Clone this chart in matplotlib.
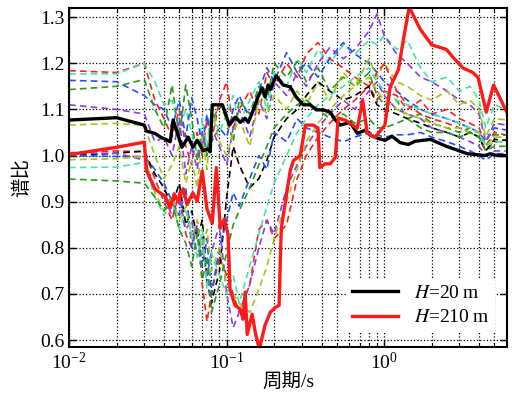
import numpy as np
import matplotlib
matplotlib.use("Agg")
import matplotlib.pyplot as plt

plt.rcParams['font.family'] = ['Liberation Serif', 'Noto Sans CJK SC']
plt.rcParams['mathtext.fontset'] = 'stix'

# periods of the dashed (intermediate depth) curves, s
t_dash = [0.01, 0.02, 0.03, 0.035, 0.04, 0.045, 0.05, 0.055, 0.06, 0.065,
          0.07, 0.075, 0.08, 0.09, 0.1, 0.11, 0.12, 0.14, 0.16, 0.18,
          0.2, 0.24, 0.28, 0.32, 0.38, 0.45, 0.55, 0.65, 0.8, 0.9,
          1.0, 1.2, 1.4, 1.7, 2.0, 2.5, 3.0, 3.5, 4.0, 4.4, 5.0, 6.0]

dash_colors = ['#ff2020', '#3ee8a8', '#2050ff', '#2a9a1a', '#8a3cf0', '#a0c814',
               '#ff2020', '#000000', '#2050ff', '#8a3cf0', '#a0c814', '#3ee8a8', '#2a9a1a']

dash_vals = [
    [1.184, 1.18, 1.20, 1.12, 1.08, 1.04, 1.10, 1.02, 0.98, 1.05, 1.00, 1.08, 1.03, 1.12,
     1.16, 1.06, 1.10, 1.14, 1.09, 1.18, 1.15, 1.20, 1.17, 1.22, 1.245, 1.21, 1.19, 1.17,
     1.15, 1.12, 1.14, 1.13, 1.10, 1.12, 1.09, 1.10, 1.08, 1.07, 1.06, 1.02, 1.05, 1.044],
    [1.177, 1.177, 1.20, 1.16, 1.11, 1.12, 1.06, 1.10, 1.05, 1.00, 1.08, 1.02, 1.10, 1.05,
     1.09, 1.13, 1.07, 1.12, 1.16, 1.10, 1.18, 1.15, 1.21, 1.18, 1.23, 1.20, 1.24, 1.22,
     1.25, 1.24, 1.26, 1.23, 1.25, 1.19, 1.16, 1.17, 1.14, 1.15, 1.12, 1.06, 1.11, 1.10],
    [1.163, 1.16, 1.13, 1.11, 1.10, 1.06, 1.12, 1.04, 1.125, 1.08, 1.02, 1.09, 1.03, 1.06,
     1.04, 1.10, 1.13, 1.08, 1.14, 1.19, 1.16, 1.223, 1.18, 1.20, 1.17, 1.21, 1.245, 1.22,
     1.20, 1.18, 1.16, 1.14, 1.12, 1.10, 1.09, 1.08, 1.07, 1.06, 1.05, 1.03, 1.06, 1.055],
    [1.143, 1.15, 1.165, 1.10, 1.06, 1.153, 1.04, 1.153, 1.08, 0.99, 1.05, 1.00, 1.07, 1.11,
     1.08, 1.03, 1.12, 1.09, 1.15, 1.12, 1.20, 1.17, 1.204, 1.16, 1.19, 1.14, 1.17, 1.15,
     1.18, 1.13, 1.11, 1.12, 1.08, 1.09, 1.07, 1.06, 1.05, 1.06, 1.05, 1.02, 1.045, 1.044],
    [1.11, 1.10, 1.09, 1.03, 1.04, 1.00, 1.08, 0.96, 1.02, 0.97, 1.05, 1.01, 1.06, 1.02,
     0.98, 1.06, 1.10, 1.04, 1.12, 1.08, 1.16, 1.13, 1.18, 1.15, 1.20, 1.234, 1.21, 1.23,
     1.27, 1.307, 1.26, 1.22, 1.20, 1.17, 1.16, 1.14, 1.12, 1.11, 1.09, 1.03, 1.07, 1.066],
    [1.066, 1.07, 1.065, 1.00, 0.95, 0.98, 1.02, 0.94, 0.99, 0.93, 1.04, 0.97, 1.10, 1.03,
     1.00, 1.05, 1.08, 1.02, 1.12, 1.09, 1.13, 1.10, 1.14, 1.11, 1.16, 1.12, 1.18, 1.15,
     1.21, 1.17, 1.20, 1.16, 1.15, 1.13, 1.12, 1.14, 1.11, 1.12, 1.10, 1.04, 1.08, 1.077],
    [1.006, 1.01, 1.008, 0.95, 0.90, 0.86, 0.92, 0.83, 0.80, 0.86, 0.72, 0.64, 0.70, 0.78,
     0.74, 0.70, 0.66, 0.72, 0.84, 0.86, 0.82, 0.85, 0.95, 1.00, 1.04, 1.07, 1.10, 1.12,
     1.15, 1.18, 1.20, 1.14, 1.11, 1.09, 1.08, 1.07, 1.06, 1.05, 1.04, 1.01, 1.03, 1.03],
    [1.0, 1.005, 1.01, 0.96, 0.93, 0.89, 0.94, 0.85, 0.88, 0.82, 0.86, 0.73, 0.68, 0.75,
     0.91, 1.02, 0.98, 0.93, 0.95, 0.99, 1.04, 1.08, 1.10, 1.13, 1.16, 1.14, 1.12, 1.13,
     1.15, 1.11, 1.10, 1.09, 1.08, 1.07, 1.06, 1.05, 1.04, 1.05, 1.04, 1.01, 1.035, 1.033],
    [1.0, 0.998, 0.998, 0.97, 0.94, 0.90, 0.87, 0.93, 0.80, 0.85, 0.76, 0.82, 0.70, 0.80,
     0.86, 0.92, 0.89, 0.95, 1.00, 0.97, 1.05, 1.03, 1.08, 1.06, 1.05, 1.04, 1.03, 1.04,
     1.05, 1.045, 1.04, 1.045, 1.045, 1.05, 1.04, 1.03, 1.02, 1.01, 1.0, 0.99, 1.004, 1.004],
    [1.004, 1.005, 0.99, 0.93, 0.91, 0.87, 0.90, 0.84, 0.86, 0.78, 0.82, 0.74, 0.79, 0.85,
     0.70, 0.627, 0.66, 0.72, 0.80, 0.86, 0.83, 0.93, 0.98, 1.02, 1.06, 1.09, 1.12, 1.10,
     1.14, 1.16, 1.13, 1.10, 1.09, 1.08, 1.06, 1.05, 1.04, 1.03, 1.02, 1.00, 1.01, 1.01],
    [0.991, 0.993, 0.998, 0.92, 0.88, 0.91, 0.86, 0.89, 0.82, 0.86, 0.79, 0.84, 0.75, 0.80,
     0.72, 0.70, 0.68, 0.66, 0.71, 0.76, 0.82, 0.90, 0.97, 1.03, 1.07, 1.10, 1.13, 1.15,
     1.17, 1.14, 1.12, 1.10, 1.09, 1.08, 1.07, 1.06, 1.06, 1.05, 1.05, 1.02, 1.04, 1.04],
    [0.974, 0.975, 0.985, 0.91, 0.87, 0.90, 0.84, 0.88, 0.83, 0.78, 0.84, 0.71, 0.79, 0.74,
     0.70, 0.74, 0.68, 0.76, 0.83, 0.89, 0.94, 1.00, 1.05, 1.08, 1.11, 1.13, 1.15, 1.17,
     1.19, 1.16, 1.14, 1.12, 1.11, 1.10, 1.09, 1.08, 1.07, 1.06, 1.05, 1.02, 1.03, 1.03],
    [0.949, 0.945, 0.94, 0.91, 0.88, 0.90, 0.84, 0.81, 0.76, 0.83, 0.73, 0.78, 0.66, 0.72,
     0.79, 0.85, 0.88, 0.93, 0.98, 1.02, 1.06, 1.09, 1.11, 1.12, 1.10, 1.08, 1.09, 1.07,
     1.08, 1.06, 1.06, 1.07, 1.08, 1.06, 1.05, 1.05, 1.04, 1.05, 1.04, 1.01, 1.02, 1.02],
]

# H = 20 m
t_h20 = [0.01, 0.02, 0.03, 0.031, 0.035, 0.038, 0.041, 0.0438, 0.0457, 0.052, 0.057,
         0.061, 0.065, 0.071, 0.076, 0.0785, 0.081, 0.094, 0.104, 0.113, 0.122, 0.131,
         0.137, 0.145, 0.158, 0.168, 0.175, 0.183, 0.189, 0.206, 0.228, 0.253, 0.276,
         0.306, 0.339, 0.37, 0.41, 0.454, 0.489, 0.526, 0.608, 0.674, 0.757, 0.815,
         0.916, 1.01, 1.12, 1.26, 1.42, 1.57, 1.96, 2.48, 3.37, 4.37, 4.71, 5.21, 6.0]
v_h20 = [1.077, 1.082, 1.066, 1.053, 1.048, 1.040, 1.035, 1.030, 1.077, 1.018, 1.040,
         1.018, 1.033, 1.010, 1.015, 1.008, 1.110, 1.110, 1.066, 1.083, 1.072, 1.081,
         1.072, 1.092, 1.127, 1.147, 1.127, 1.153, 1.143, 1.173, 1.153, 1.149, 1.127,
         1.110, 1.110, 1.099, 1.099, 1.094, 1.077, 1.066, 1.072, 1.048, 1.055, 1.044,
         1.037, 1.033, 1.042, 1.028, 1.024, 1.031, 1.035, 1.020, 1.004, 1.000, 1.004, 1.000, 1.000]

# H = 210 m
t_h210 = [0.01, 0.02, 0.03, 0.031, 0.035, 0.0378, 0.0407, 0.0438, 0.0464, 0.049, 0.053,
          0.056, 0.061, 0.065, 0.0699, 0.075, 0.081, 0.086, 0.091, 0.0965, 0.102, 0.105,
          0.113, 0.122, 0.127, 0.131, 0.135, 0.145, 0.152, 0.161, 0.175, 0.189, 0.204,
          0.215, 0.222, 0.253, 0.265, 0.293, 0.316, 0.355, 0.38, 0.39, 0.42, 0.454, 0.489,
          0.51, 0.565, 0.608, 0.674, 0.73, 0.78, 0.875, 1.01, 1.09, 1.23, 1.32, 1.44,
          1.69, 2.0, 2.48, 2.73, 3.15, 3.65, 3.94, 4.44, 4.94, 6.0]
v_h210 = [1.002, 1.018, 1.029, 0.967, 0.928, 0.919, 0.912, 0.886, 0.917, 0.901, 0.928,
          0.894, 0.919, 0.901, 0.967, 0.884, 0.853, 0.974, 0.842, 0.862, 0.829, 0.710,
          0.675, 0.667, 0.645, 0.704, 0.612, 0.656, 0.616, 0.580, 0.632, 0.660, 0.671,
          0.675, 0.842, 0.967, 0.989, 1.000, 1.066, 1.066, 1.059, 0.974, 0.982, 0.982, 0.996,
          1.081, 1.077, 1.070, 1.059, 1.120, 1.048, 1.040, 1.066, 1.149, 1.186, 1.250, 1.322,
          1.274, 1.240, 1.230, 1.213, 1.190, 1.180, 1.169, 1.094, 1.153, 1.094]

fig = plt.figure(figsize=(5.12, 3.97), dpi=100)
ax = fig.add_axes([0.135, 0.126, 0.855, 0.854])

for vals, c in zip(dash_vals, dash_colors):
    ax.plot(t_dash, vals, color=c, lw=1.2, ls=(0, (4, 2.5)))

ax.plot(t_h20, v_h20, color='black', lw=2.4, label='$H$=20\u2009m')
ax.plot(t_h210, v_h210, color='#ff1a1a', lw=2.4, label='$H$=210\u2009m')

ax.set_xscale('log')
ax.set_xlim(0.01, 6.0)
ax.set_ylim(0.585, 1.32)
ax.set_yticks([0.6, 0.7, 0.8, 0.9, 1.0, 1.1, 1.2, 1.3])
ax.set_yticklabels(['0.6', '0.7', '0.8', '0.9', '1.0', '1.1', '1.2', '1.3'])

ax.grid(True, which='both', axis='x', color='black', ls=':', lw=0.9)
ax.grid(True, which='major', axis='y', color='black', ls=':', lw=0.9)
ax.tick_params(which='both', direction='in', top=True, right=True, labelsize=14)
ax.tick_params(which='major', length=5, width=1)
ax.tick_params(which='minor', length=3, width=0.8)
for s in ax.spines.values():
    s.set_linewidth(1.5)

ax.set_xlabel('周期/s', fontsize=14, labelpad=0)
ax.set_ylabel('谱比', fontsize=14, labelpad=6)

leg = ax.legend(loc='lower right', bbox_to_anchor=(0.995, 0.015), fontsize=14,
                handlelength=2.4, frameon=True, fancybox=False, borderpad=0.3,
                labelspacing=0.35)
leg.get_frame().set_edgecolor('none')
leg.get_frame().set_facecolor('white')
leg.get_frame().set_alpha(1.0)

fig.savefig('out.png', dpi=100)
